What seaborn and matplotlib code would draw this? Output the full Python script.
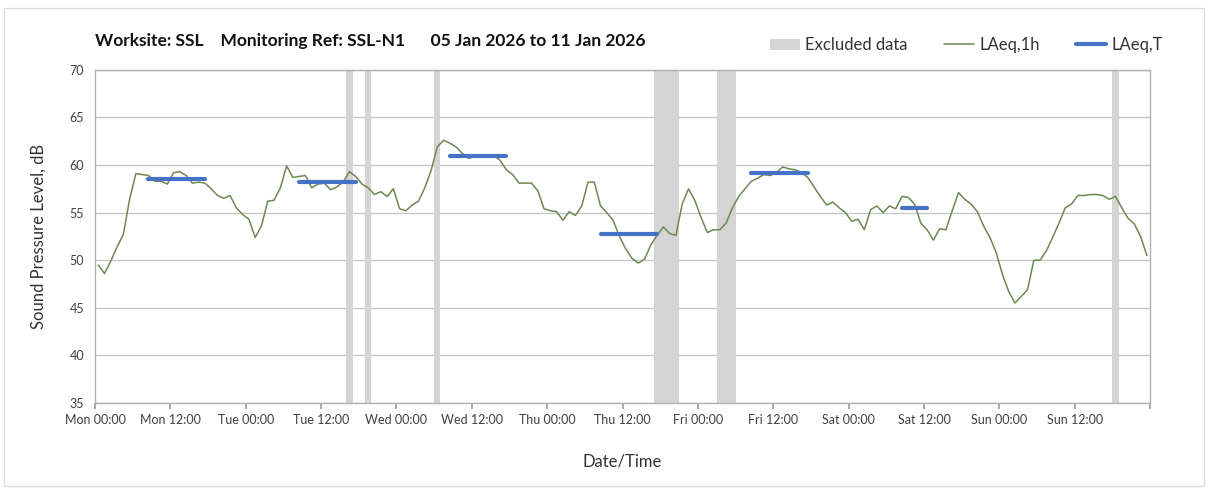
import numpy as np
import pandas as pd
import seaborn as sns
from matplotlib import pyplot as plt
from matplotlib.lines import Line2D
from matplotlib.patches import Patch, Rectangle

# hourly LAeq,1h values, Mon 00:00 .. Sun 23:00
laeq_1h = [
    49.5, 48.6, 49.9, 51.4, 52.7, 56.4, 59.1, 59.0, 58.9, 58.3, 58.3, 58.0,
    59.2, 59.3, 58.9, 58.1, 58.2, 58.1, 57.5, 56.8, 56.5, 56.8, 55.5, 54.8,
    54.3, 52.4, 53.6, 56.2, 56.3, 57.6, 59.9, 58.7, 58.8, 58.9, 57.6, 58.0,
    58.1, 57.4, 57.7, 58.2, 59.3, 58.8, 58.0, 57.6, 56.9, 57.2, 56.7, 57.5,
    55.4, 55.2, 55.8, 56.2, 57.6, 59.4, 61.9, 62.6, 62.3, 61.9, 61.2, 60.7,
    60.9, 61.0, 61.0, 61.0, 60.5, 59.5, 59.0, 58.1, 58.1, 58.1, 57.3, 55.4,
    55.2, 55.1, 54.2, 55.1, 54.7, 55.7, 58.2, 58.2, 55.7, 55.0, 54.2, 52.5,
    51.2, 50.2, 49.7, 50.1, 51.6, 52.6, 53.5, 52.8, 52.6, 55.9, 57.5, 56.3,
    54.5, 52.9, 53.2, 53.2, 53.9, 55.5, 56.7, 57.5, 58.3, 58.6, 59.0, 58.9,
    59.2, 59.8, 59.6, 59.5, 59.2, 58.7, 57.7, 56.7, 55.8, 56.1, 55.5, 55.0,
    54.1, 54.3, 53.2, 55.3, 55.7, 55.0, 55.7, 55.4, 56.7, 56.6, 55.9, 53.9,
    53.2, 52.1, 53.3, 53.2, 55.2, 57.1, 56.4, 55.9, 55.1, 53.6, 52.4, 50.8,
    48.5, 46.7, 45.5, 46.2, 46.9, 50.0, 50.0, 51.0, 52.4, 53.9, 55.5, 55.9,
    56.8, 56.8, 56.9, 56.9, 56.8, 56.4, 56.7, 55.5, 54.4, 53.8, 52.5, 50.5,
]

# LAeq,T periods (first and last hour of each period)
period_start = [8, 32, 56, 80, 104, 128]
period_end = [17, 41, 65, 89, 113, 132]
laeq_t = [58.5, 58.2, 61.0, 52.8, 59.2, 55.5]

# excluded data windows, in hours from Mon 00:00
excl_start = [40, 43, 54, 89, 99, 162]
excl_end = [41, 44, 55, 93, 102, 163]

tick_labels = ["Mon 00:00", "Mon 12:00", "Tue 00:00", "Tue 12:00", "Wed 00:00",
               "Wed 12:00", "Thu 00:00", "Thu 12:00", "Fri 00:00", "Fri 12:00",
               "Sat 00:00", "Sat 12:00", "Sun 00:00", "Sun 12:00", ""]

green = "#6a8a50"
blue = "#4472c4"
grey_band = "#d4d4d4"

hourly = pd.DataFrame({"hour": np.arange(len(laeq_1h)) + 0.5, "level": laeq_1h})
rows = []
for k in range(len(laeq_t)):
    rows.append({"period": k, "hour": period_start[k] + 0.5, "level": laeq_t[k]})
    rows.append({"period": k, "hour": period_end[k] + 0.5, "level": laeq_t[k]})
periods = pd.DataFrame(rows)

sns.set_theme(style="white")
plt.rcParams["font.family"] = ["Lato", "DejaVu Sans"]

fig = plt.figure(figsize=(12.08, 4.92), dpi=100)
ax = fig.add_axes([0.0787, 0.181, 0.8733, 0.677])

for s, e in zip(excl_start, excl_end):
    ax.axvspan(s, e, color=grey_band, lw=0, zorder=1)

sns.lineplot(data=hourly, x="hour", y="level", color=green, lw=1.1, ax=ax, zorder=3)
sns.lineplot(data=periods, x="hour", y="level", units="period", estimator=None,
             color=blue, lw=3, ax=ax, zorder=4)

ax.set_xlim(0, 168)
ax.set_ylim(35, 70)
ax.set_yticks(np.arange(35, 71, 5))
ax.set_xticks(np.arange(len(tick_labels)) * 12)
ax.set_xticklabels(tick_labels)
ax.set_xticks(np.arange(0, 169, 24), minor=True)

ax.grid(axis="y", color="#c8c8c8", lw=1)
ax.grid(axis="x", which="minor", color="#dcdcdc", lw=1)
ax.grid(axis="x", which="major", visible=False)
ax.set_axisbelow(True)
for sp in ax.spines.values():
    sp.set_color("#b0b0b0")
    sp.set_linewidth(1)
ax.tick_params(axis="x", which="major", direction="out", length=4, color="#a0a0a0",
               labelsize=9, labelcolor="#404040", bottom=True, pad=4)
ax.tick_params(axis="x", which="minor", length=0)
ax.tick_params(axis="y", length=0, labelsize=9, labelcolor="#404040", pad=8)

ax.set_xlabel("Date/Time", fontsize=12, color="#333333", labelpad=20)
ax.set_ylabel("Sound Pressure Level, dB", fontsize=12, color="#333333", labelpad=16)

fig.text(0.079, 0.917, "Worksite: SSL    Monitoring Ref: SSL-N1      05 Jan 2026 to 11 Jan 2026",
         fontsize=12.5, fontweight="bold", color="#111111", va="center")

handles = [Patch(facecolor=grey_band, edgecolor="none"),
           Line2D([0], [0], color=green, lw=1.1),
           Line2D([0], [0], color=blue, lw=3)]
fig.legend(handles, ["Excluded data", "LAeq,1h", "LAeq,T"], loc="center right",
           bbox_to_anchor=(0.975, 0.908), ncol=3, frameon=False, fontsize=12,
           handlelength=1.8, handletextpad=0.3, columnspacing=2.2,
           labelcolor="#333333")

fig.patches.append(Rectangle((0.003, 0.012), 0.994, 0.972, transform=fig.transFigure,
                             fill=False, edgecolor="#dddddd", lw=1))

fig.savefig("out.png", dpi=100)
